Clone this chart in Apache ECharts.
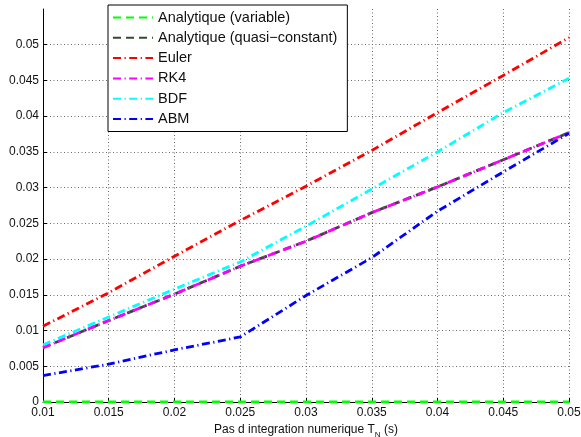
<!DOCTYPE html>
<html>
<head>
<meta charset="utf-8">
<script src="https://cdn.jsdelivr.net/npm/echarts@6/dist/echarts.min.js"></script>
<style>
html,body{margin:0;padding:0;background:#fff;}
#chart{width:581px;height:437px;}
</style>
</head>
<body>
<div id="chart"></div>
<script>
// Data
const stepSizes = [0.01, 0.015, 0.02, 0.025, 0.03, 0.035, 0.04, 0.045, 0.05];
const analytiqueVariable = [0, 0, 0, 0, 0, 0, 0, 0, 0];
const analytiqueQuasi = [0.0076, 0.0114, 0.0151, 0.0190, 0.0225, 0.0265, 0.0301, 0.0339, 0.0377];
const euler = [0.0106, 0.0153, 0.0204, 0.0254, 0.0302, 0.0352, 0.0405, 0.0457, 0.0510];
const rk4 = [0.0076, 0.0114, 0.0151, 0.0190, 0.0225, 0.0265, 0.0301, 0.0339, 0.0377];
const bdf = [0.0080, 0.0119, 0.0158, 0.0196, 0.0246, 0.0298, 0.0350, 0.0405, 0.0453];
const abm = [0.0037, 0.0053, 0.0073, 0.0091, 0.0149, 0.0202, 0.0267, 0.0322, 0.0376];
const seriesNames = ['Analytique (variable)', 'Analytique (quasi\u2212constant)', 'Euler', 'RK4', 'BDF', 'ABM'];
const xAxisTitle = 'Pas d integration numerique T';
const xAxisSub = 'N';

const FONT = '"Liberation Sans", Arial, Helvetica, sans-serif';
const dashDot = [8, 3.5, 1.2, 3.5];
const dashed = [8, 5];

function pairs(ys) { return stepSizes.map((x, i) => [x, ys[i]]); }
function fmt(v) { return String(parseFloat(v.toFixed(4))); }

const defs = [
  { data: analytiqueVariable, color: '#00ff00', type: dashed },
  { data: analytiqueQuasi, color: '#354a35', type: dashed },
  { data: euler, color: '#ff0000', type: dashDot },
  { data: rk4, color: '#ff00ff', type: dashDot },
  { data: bdf, color: '#00ffff', type: dashDot },
  { data: abm, color: '#0000ff', type: dashDot }
];

const chart = echarts.init(document.getElementById('chart'), null, { renderer: 'canvas' });
chart.setOption({
  animation: false,
  backgroundColor: '#ffffff',
  textStyle: { fontFamily: FONT },
  grid: { left: 43, right: 12, top: 9, bottom: 35, containLabel: false, outerBoundsMode: 'none' },
  legend: {
    data: seriesNames,
    orient: 'vertical',
    left: 108, top: 5,
    padding: [5, 10, 5, 4],
    itemWidth: 40, itemHeight: 14, itemGap: 5.3,
    backgroundColor: '#ffffff',
    borderColor: '#000000', borderWidth: 1, borderRadius: 0,
    itemStyle: { opacity: 0 },
    textStyle: { fontSize: 14.5, lineHeight: 14, color: '#111', fontFamily: FONT }
  },
  xAxis: {
    type: 'value', min: 0.01, max: 0.05, interval: 0.005,
    name: '{t|' + xAxisTitle + '}{s|' + xAxisSub + '}{t| (s)}',
    nameLocation: 'middle', nameGap: 12,
    nameTextStyle: {
      rich: {
        t: { fontSize: 12, color: '#111', fontFamily: FONT, verticalAlign: 'bottom', lineHeight: 14 },
        s: { fontSize: 8, color: '#111', fontFamily: FONT, verticalAlign: 'bottom', lineHeight: 10, padding: [0, 0, -3, 0] }
      }
    },
    axisLine: { show: true, lineStyle: { color: '#000', width: 1 } },
    axisTick: { show: true, inside: true, length: 4, lineStyle: { color: '#000' } },
    axisLabel: { fontSize: 12, color: '#111', margin: 5, formatter: fmt, fontFamily: FONT },
    splitLine: { show: true, lineStyle: { color: '#6a6a6a', width: 1, type: [1, 2.5] } }
  },
  yAxis: {
    type: 'value', min: 0, max: 0.055, interval: 0.005,
    axisLine: { show: true, lineStyle: { color: '#000', width: 1 } },
    axisTick: { show: true, inside: true, length: 4, lineStyle: { color: '#000' } },
    axisLabel: { fontSize: 12, color: '#111', margin: 4, formatter: fmt, showMaxLabel: false, fontFamily: FONT },
    splitLine: { show: true, showMaxLine: false, lineStyle: { color: '#6a6a6a', width: 1, type: [1, 2.5] } }
  },
  series: defs.map((d, i) => ({
    name: seriesNames[i],
    type: 'line',
    data: pairs(d.data),
    symbol: 'none',
    showSymbol: false,
    clip: true,
    z: 2 + i,
    lineStyle: { color: d.color, width: 2.8, type: d.type, cap: 'butt' },
    itemStyle: { color: d.color }
  }))
});
</script>
</body>
</html>
